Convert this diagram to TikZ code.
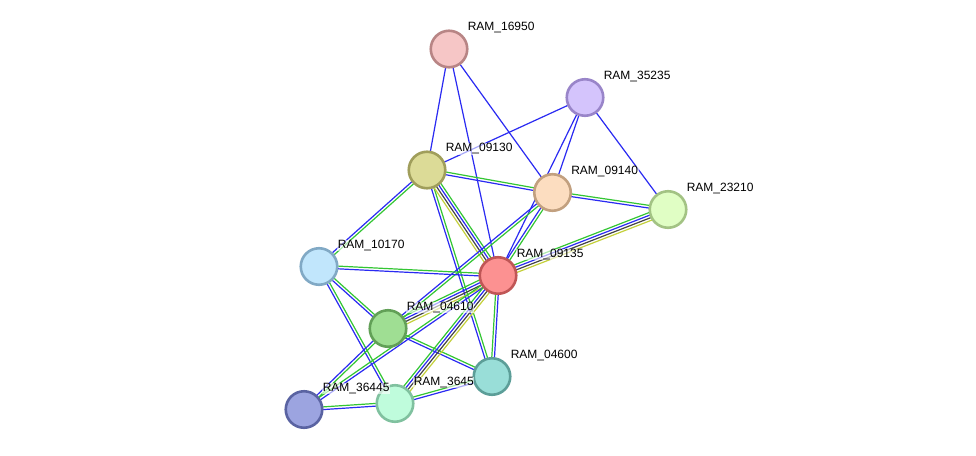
\documentclass[tikz,border=0pt]{standalone}
\usepackage{fontspec}
\setmainfont{Liberation Sans}
\usetikzlibrary{calc}
\pgfdeclarelayer{bg}
\pgfdeclarelayer{paper}
\pgfsetlayers{paper,bg,main}
\definecolor{cgreen}{HTML}{33C633}
\definecolor{cblue}{HTML}{2A2AF2}
\definecolor{cblack}{HTML}{444444}
\definecolor{cyellow}{HTML}{C4D03A}
\definecolor{fA}{HTML}{F6C6C6}\definecolor{dA}{HTML}{B88585}
\definecolor{fB}{HTML}{D4C4FC}\definecolor{dB}{HTML}{9985C9}
\definecolor{fC}{HTML}{DCDB97}\definecolor{dC}{HTML}{A09E5B}
\definecolor{fD}{HTML}{FCDDC0}\definecolor{dD}{HTML}{C2A07F}
\definecolor{fE}{HTML}{E0FEC4}\definecolor{dE}{HTML}{A3C384}
\definecolor{fF}{HTML}{C1E6FC}\definecolor{dF}{HTML}{81A9C5}
\definecolor{fG}{HTML}{FC9191}\definecolor{dG}{HTML}{C05656}
\definecolor{fH}{HTML}{9FDE93}\definecolor{dH}{HTML}{62A057}
\definecolor{fI}{HTML}{BFFCDC}\definecolor{dI}{HTML}{80C19F}
\definecolor{fJ}{HTML}{99DED8}\definecolor{dJ}{HTML}{5C9E98}
\definecolor{fK}{HTML}{9CA4E0}\definecolor{dK}{HTML}{5A63A2}
\newcommand\lnk[4]{\draw[ed,#4] ($(#1.center)!#3pt!90:(#2.center)$) -- ($(#2.center)!#3pt!-90:(#1.center)$);}
\newcommand\eOne[2]{\lnk{#1}{#2}{0}{cblue}}
\newcommand\eTwo[2]{\lnk{#1}{#2}{1.35}{cgreen}\lnk{#1}{#2}{-1.35}{cblue}}
\newcommand\eFour[2]{\lnk{#1}{#2}{4}{cgreen}\lnk{#1}{#2}{1.35}{cblue}\lnk{#1}{#2}{-1.35}{cblack}\lnk{#1}{#2}{-4}{cyellow}}
\tikzset{
  prot/.style 2 args={circle, minimum size=36.5pt, inner sep=0pt, line width=2.6pt, fill=#1, draw=#2},
  lbl/.style={anchor=west, font=\fontsize{12}{14}\selectfont, inner sep=0.6pt, fill=white, fill opacity=0.6, text opacity=1},
  ed/.style={line width=1.2pt}
}
\begin{document}
\begin{tikzpicture}[x=1pt,y=-1pt]
\begin{pgfonlayer}{paper}
\fill[white] (0,0) rectangle (976,455);
\end{pgfonlayer}
\useasboundingbox (0,0) rectangle (976,455);
% nodes
\node[prot={fA}{dA}] (n16950) at (449,49) {};
\node[prot={fB}{dB}] (n35235) at (585,97.5) {};
\node[prot={fC}{dC}] (n09130) at (427,170) {};
\node[prot={fD}{dD}] (n09140) at (552.5,192.5) {};
\node[prot={fE}{dE}] (n23210) at (668,209.5) {};
\node[prot={fF}{dF}] (n10170) at (319,266.5) {};
\node[prot={fG}{dG}] (n09135) at (498,275.5) {};
\node[prot={fH}{dH}] (n04610) at (388,328.5) {};
\node[prot={fI}{dI}] (n3645) at (395,403.5) {};
\node[prot={fJ}{dJ}] (n04600) at (492,376.5) {};
\node[prot={fK}{dK}] (n36445) at (304,409.5) {};
% edges
\begin{pgfonlayer}{bg}
\eOne{n16950}{n09130}
\eOne{n16950}{n09140}
\eOne{n16950}{n09135}
\eOne{n35235}{n09130}
\eOne{n35235}{n09140}
\eOne{n35235}{n09135}
\eOne{n35235}{n23210}
\eTwo{n09130}{n09140}
\eTwo{n09140}{n23210}
\eTwo{n09130}{n10170}
\eTwo{n09130}{n04600}
\eFour{n09130}{n09135}
\eTwo{n09140}{n09135}
\eTwo{n09140}{n04610}
\eFour{n09135}{n23210}
\eTwo{n10170}{n09135}
\eTwo{n10170}{n04610}
\eTwo{n10170}{n3645}
\eFour{n04610}{n09135}
\eTwo{n04610}{n04600}
\eTwo{n04610}{n36445}
\eTwo{n36445}{n3645}
\eTwo{n36445}{n09135}
\eFour{n3645}{n09135}
\eTwo{n3645}{n04600}
\eTwo{n04600}{n09135}
\end{pgfonlayer}
% labels
\node[lbl] (t16950) at (467,28) {RAM\_16950};
\node[lbl] (t35235) at (603,76.5) {RAM\_35235};
\node[lbl] (t09130) at (445,149) {RAM\_09130};
\node[lbl] (t09140) at (570.5,171.5) {RAM\_09140};
\node[lbl] (t23210) at (686,188.5) {RAM\_23210};
\node[lbl] (t10170) at (337,245.5) {RAM\_10170};
\node[lbl] (t09135) at (516,254.5) {RAM\_09135};
\node[lbl] (t04610) at (406,307.5) {RAM\_04610};
\node[lbl] (t04600) at (510,355.5) {RAM\_04600};
\node[lbl] (t36445) at (322,388.5) {RAM\_36445};
\node[lbl] (t3645) at (413,382.5) {RAM\_3645};
\end{tikzpicture}
\end{document}
